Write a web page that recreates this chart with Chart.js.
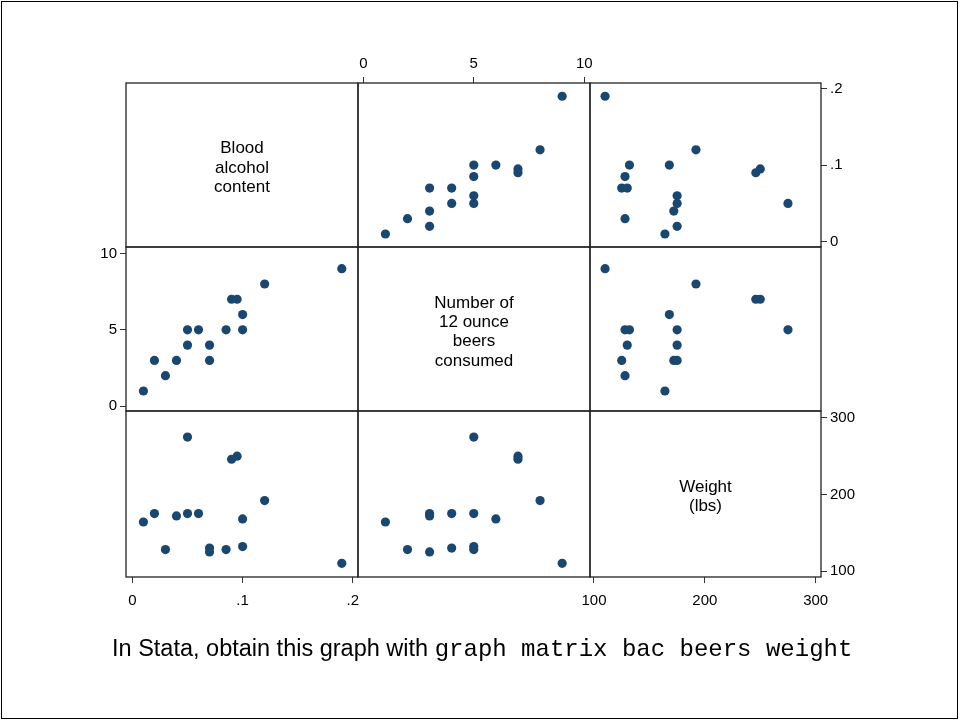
<!DOCTYPE html>
<html>
<head>
<meta charset="utf-8">
<script src="https://cdn.jsdelivr.net/npm/chart.js@4/dist/chart.umd.min.js"></script>
<style>
  body { margin: 0; background: #fff; }
  #wrap { position: relative; width: 960px; height: 721px; overflow: hidden; }
  #wrap canvas { position: absolute; left: 0; top: 0; }
  #frame { position: absolute; left: 1px; top: 1px; width: 955px; height: 716px; border: 1.5px solid #000; }
  #cap { position: absolute; left: 112px; top: 635px; font: 23.5px "Liberation Sans", Arial, sans-serif; color: #000; white-space: nowrap; }
  #cap code { font: 24px "Liberation Mono", "Courier New", monospace; }
</style>
</head>
<body>
<div id="wrap">
  <div id="frame"></div>
  <div id="cap">In Stata, obtain this graph with <code>graph matrix bac beers weight</code></div>
</div>
<script>
// 16 students: beers drunk, blood alcohol, weight
const beers = [5, 2, 9, 8, 3, 7, 3, 5, 3, 5, 4, 6, 5, 7, 1, 4];
const bac = [0.10, 0.03, 0.19, 0.12, 0.04, 0.095, 0.07, 0.06, 0.02, 0.05, 0.07, 0.10, 0.085, 0.09, 0.01, 0.05];
const weight = [132, 128, 110, 192, 172, 250, 125, 175, 175, 275, 130, 168, 128, 246, 164, 175];

const bacTicks = [0, 0.1, 0.2];
const beerTicks = [0, 5, 10];
const weightTicks = [100, 200, 300];

const varLabels = [
  ["Blood", "alcohol", "content"],
  ["Number of", "12 ounce", "beers", "consumed"],
  ["Weight", "(lbs)"]
];

// each variable: values, ticks, and the plotted range (x range, y range)
const vars = [
  { values: bac, ticks: bacTicks, xr: [-0.0058, 0.2047], yr: [-0.007, 0.2073] },
  { values: beers, ticks: beerTicks, xr: [-0.24, 10.26], yr: [-0.31, 10.42] },
  { values: weight, ticks: weightTicks, xr: [96.4, 304.8], yr: [92.2, 309] }
];

const colX = [126, 358, 590, 821];
const rowY = [83, 247, 411, 577];
const W = 960, H = 721, T = 45;
const dotColor = "#1a476f";
const tickFont = { family: "'Liberation Sans', Arial, sans-serif", size: 15 };

// which outer axes sit on which cell
const axesAt = {
  "0,1": ["top"],
  "0,2": ["right"],
  "1,0": ["left"],
  "2,0": ["bottom"],
  "2,2": ["bottom", "right"]
};

function fmt(v) {
  return String(+v.toFixed(3)).replace(/^0\./, ".");
}

const cellPlugin = {
  id: "cell",
  afterDraw(chart, args, opts) {
    const a = chart.chartArea;
    const ctx = chart.ctx;
    ctx.save();
    ctx.strokeStyle = "#222";
    ctx.lineWidth = 1.3;
    ctx.strokeRect(a.left, a.top, a.right - a.left, a.bottom - a.top);
    if (opts.lines) {
      ctx.fillStyle = "#000";
      ctx.font = "17px 'Liberation Sans', Arial, sans-serif";
      ctx.textAlign = "center";
      ctx.textBaseline = "middle";
      const lh = 19.3;
      const cx = (a.left + a.right) / 2;
      const cy = (a.top + a.bottom) / 2 + 3 - (opts.lines.length - 1) * lh / 2;
      opts.lines.forEach((t, i) => ctx.fillText(t, cx, cy + i * lh));
    }
    ctx.restore();
  }
};

function scaleOpts(v, range, pos, shown) {
  const pad = { top: 4, bottom: 9, left: 3, right: 3 }[pos];
  return {
    type: "linear",
    position: pos,
    display: shown,
    min: range[0],
    max: range[1],
    afterBuildTicks: s => { s.ticks = v.ticks.map(t => ({ value: t })); },
    afterFit: s => {
      if (!s.options.display) { s.width = 0; s.height = 0; return; }
      if (s.isHorizontal()) s.height = T; else s.width = T;
    },
    grid: { drawOnChartArea: false, tickLength: 6, color: "#333", lineWidth: 1 },
    border: { display: false },
    ticks: {
      font: tickFont,
      color: "#000",
      padding: pad,
      maxRotation: 0,
      callback: val => fmt(val)
    }
  };
}

const wrap = document.getElementById("wrap");

for (let r = 0; r < 3; r++) {
  for (let c = 0; c < 3; c++) {
    const axes = axesAt[r + "," + c] || [];
    const xv = vars[c], yv = vars[r];
    const has = p => axes.includes(p);
    const x0 = colX[c], x1 = colX[c + 1], y0 = rowY[r], y1 = rowY[r + 1];

    const cv = document.createElement("canvas");
    cv.width = W;
    cv.height = H;
    wrap.insertBefore(cv, document.getElementById("cap"));

    const pts = r === c ? [] : xv.values.map((x, i) => ({ x: x, y: yv.values[i] }));

    new Chart(cv, {
      type: "scatter",
      data: {
        datasets: [{
          data: pts,
          backgroundColor: dotColor,
          borderWidth: 0,
          pointRadius: 4.6,
          pointHoverRadius: 4.6
        }]
      },
      options: {
        responsive: false,
        animation: false,
        events: [],
        layout: {
          padding: {
            left: has("left") ? x0 - T : x0,
            right: has("right") ? W - x1 - T : W - x1,
            top: has("top") ? y0 - T : y0,
            bottom: has("bottom") ? H - y1 - T : H - y1
          }
        },
        scales: {
          x: scaleOpts(xv, xv.xr, has("top") ? "top" : "bottom", has("top") || has("bottom")),
          y: scaleOpts(yv, yv.yr, has("left") ? "left" : "right", has("left") || has("right"))
        },
        plugins: {
          legend: { display: false },
          tooltip: { enabled: false },
          cell: { lines: r === c ? varLabels[r] : null }
        }
      },
      plugins: [cellPlugin]
    });
  }
}
</script>
</body>
</html>
